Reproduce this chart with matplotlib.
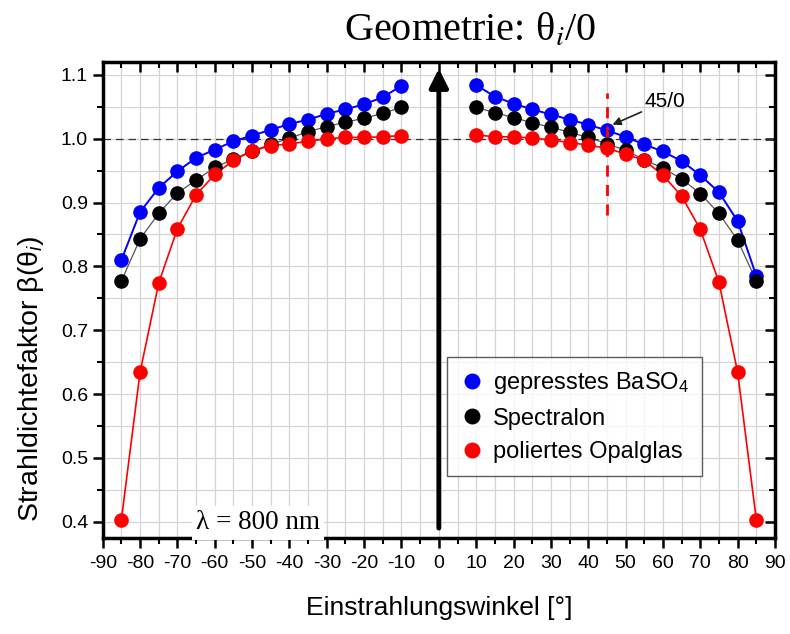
import matplotlib
matplotlib.use('Agg')
import matplotlib.pyplot as plt
from matplotlib.ticker import MultipleLocator

plt.rcParams['font.family'] = ['Liberation Sans', 'DejaVu Sans']
plt.rcParams['mathtext.fontset'] = 'custom'
plt.rcParams['mathtext.rm'] = 'Liberation Sans'
plt.rcParams['mathtext.it'] = 'Liberation Sans:italic'

# angles of incidence, left and right branch
angles_left = [-85, -80, -75, -70, -65, -60, -55, -50, -45, -40, -35, -30, -25, -20, -15, -10]
angles_right = [10, 15, 20, 25, 30, 35, 40, 45, 50, 55, 60, 65, 70, 75, 80, 85]

baso4_left = [0.810, 0.885, 0.923, 0.949, 0.970, 0.983, 0.996, 1.005, 1.014, 1.023, 1.030, 1.039, 1.046, 1.054, 1.065, 1.083]
baso4_right = [1.084, 1.066, 1.055, 1.046, 1.038, 1.030, 1.022, 1.013, 1.003, 0.991, 0.980, 0.965, 0.943, 0.916, 0.871, 0.785]

spectralon_left = [0.777, 0.843, 0.883, 0.915, 0.935, 0.955, 0.968, 0.981, 0.991, 1.001, 1.011, 1.019, 1.026, 1.032, 1.040, 1.049]
spectralon_right = [1.049, 1.041, 1.033, 1.025, 1.018, 1.010, 1.002, 0.992, 0.982, 0.967, 0.954, 0.937, 0.914, 0.883, 0.841, 0.777]

opal_left = [0.403, 0.634, 0.774, 0.859, 0.912, 0.944, 0.966, 0.981, 0.989, 0.992, 0.996, 1.000, 1.002, 1.002, 1.003, 1.005]
opal_right = [1.006, 1.003, 1.003, 1.001, 0.998, 0.994, 0.990, 0.985, 0.976, 0.966, 0.943, 0.910, 0.858, 0.775, 0.634, 0.403]

x_ticks = list(range(-90, 91, 10))

fig = plt.figure(figsize=(7.9, 6.34), dpi=100)
ax = fig.add_axes([0.130, 0.151, 0.851, 0.751])

# grid
ax.xaxis.set_major_locator(MultipleLocator(10))
ax.xaxis.set_minor_locator(MultipleLocator(5))
ax.yaxis.set_major_locator(MultipleLocator(0.1))
ax.yaxis.set_minor_locator(MultipleLocator(0.05))
ax.grid(True, which='both', color='#d4d4d4', lw=0.9, zorder=0)
ax.set_axisbelow(True)

ax.axhline(1.0, color='#333333', lw=0.9, ls=(0, (6, 4)), zorder=1)

series = [
    (baso4_left, baso4_right, 'blue', 'blue', 1.4, 'gepresstes BaSO$_4$'),
    (spectralon_left, spectralon_right, 'black', '#555555', 0.9, 'Spectralon'),
    (opal_left, opal_right, 'red', 'red', 1.2, 'poliertes Opalglas'),
]
handles = []
for left, right, mc, lc, lw, lab in series:
    ax.plot(angles_left, left, color=lc, lw=lw, zorder=2)
    ax.plot(angles_right, right, color=lc, lw=lw, zorder=2)
    ax.plot(angles_left, left, 'o', color=mc, ms=9.5, zorder=3)
    h, = ax.plot(angles_right, right, 'o', color=mc, ms=9.5, zorder=3, label=lab)
    handles.append(h)

# 45/0 marker
ax.plot([45, 45], [0.881, 1.072], color='red', lw=2, ls=(0, (4, 3)), zorder=4)
ax.annotate('45/0', xy=(46.5, 1.022), xytext=(55, 1.058), fontsize=15,
            va='center', ha='left',
            arrowprops=dict(arrowstyle='-|>', color='#222222', lw=1.2, mutation_scale=12,
                            shrinkA=0, shrinkB=0))

# big normal arrow
ax.annotate('', xy=(0, 1.11), xytext=(0, 0.39),
            arrowprops=dict(arrowstyle='-|>', color='black', lw=3.5, mutation_scale=28,
                            shrinkA=0, shrinkB=0), zorder=5)

ax.text(-48.5, 0.398, 'λ = 800 nm', family=['Liberation Serif'], fontsize=19.5,
        ha='center', va='center', zorder=4,
        bbox=dict(facecolor='white', edgecolor='none', pad=3))

ax.set_xlim(-90, 90)
ax.set_ylim(0.374, 1.12)
ax.set_xticks(x_ticks)
ax.set_xticklabels([str(t) for t in x_ticks])

for s in ax.spines.values():
    s.set_linewidth(2.5)
ax.tick_params(which='major', direction='out', length=7, width=1.8, labelsize=14)
ax.tick_params(which='minor', direction='out', length=4, width=1.5)
ax.tick_params(which='both', top=True, right=True)
ax.tick_params(axis='x', pad=5)
# ticks on top/right point inward
for tk in ax.xaxis.get_major_ticks() + ax.xaxis.get_minor_ticks():
    tk.tick2line.set_marker(matplotlib.lines.TICKDOWN)
for tk in ax.yaxis.get_major_ticks() + ax.yaxis.get_minor_ticks():
    tk.tick2line.set_marker(matplotlib.lines.TICKLEFT)

ax.set_xlabel('Einstrahlungswinkel [°]', fontsize=19)
ax.xaxis.set_label_coords(0.5, -0.122)
ax.set_ylabel('Strahldichtefaktor β(θ$_i$)', fontsize=20.5)
ax.yaxis.set_label_coords(-0.085, 0.335)

fig.text(0.595, 0.952, 'Geometrie: θ$_i$/0', family=['Liberation Serif'],
         math_fontfamily='stix', fontsize=29, ha='center', va='center')

leg = ax.legend(handles=handles, loc='lower left', bbox_to_anchor=(0.512, 0.130),
                borderaxespad=0, fontsize=17, frameon=True, fancybox=False,
                edgecolor='#333333', handletextpad=0.4, borderpad=0.55,
                labelspacing=0.5, handlelength=1.0, markerscale=1.1)
leg.get_frame().set_linewidth(1.0)

fig.savefig('out.png', dpi=100)
